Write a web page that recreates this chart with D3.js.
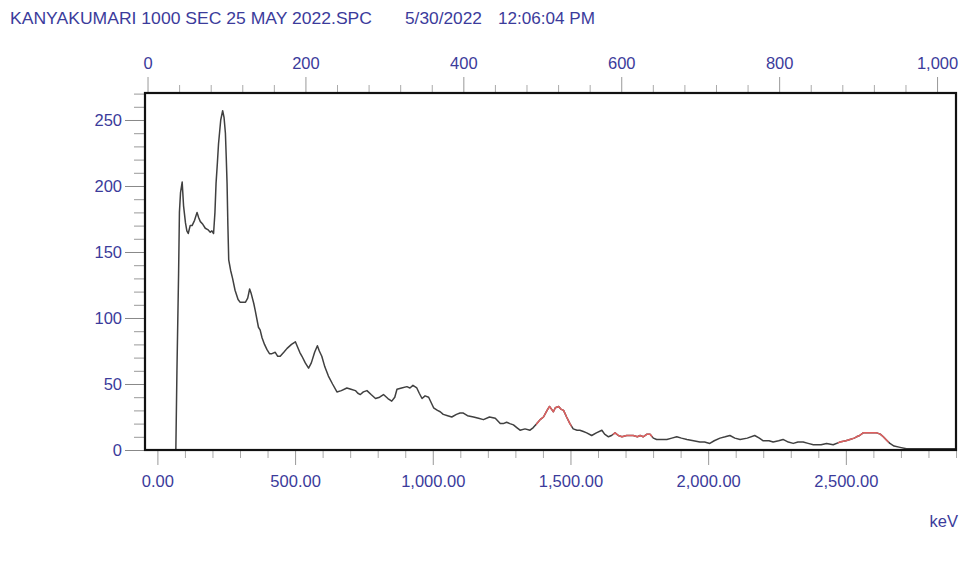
<!DOCTYPE html>
<html>
<head>
<meta charset="utf-8">
<script src="https://cdn.jsdelivr.net/npm/d3@7"></script>
<style>
  html, body { margin: 0; padding: 0; background: #ffffff; }
  svg { display: block; }
  text { font-family: "Liberation Sans", Arial, sans-serif; fill: #3b3b9b; }
</style>
</head>
<body>
<svg id="chart" width="963" height="561"></svg>
<script>
// ---- data ----
const titleFile = "KANYAKUMARI 1000 SEC 25 MAY 2022.SPC";
const titleDate = "5/30/2022";
const titleTime = "12:06:04 PM";
const unitLabel = "keV";

// energy (keV) of each sampled point
const energy = [67,71,77,80,84,90,95,102,107,112,119,126,135,144,150,156,165,174,183,192,198,204,209,213,218,222,230,237,242,247,250,253,256,259,266,273,282,293,300,310,320,328,335,340,350,355,367,373,380,389,398,407,416,428,437,446,459,471,487,501,509,517,525,537,549,559,571,581,588,597,608,621,636,652,668,688,703,719,728,737,748,761,776,792,807,821,837,851,862,870,887,906,917,928,942,951,961,972,985,994,1003,1017,1027,1038,1054,1069,1086,1099,1111,1126,1148,1166,1184,1206,1227,1245,1256,1268,1280,1293,1305,1317,1335,1353,1365,1378,1390,1402,1415,1424,1431,1438,1445,1457,1465,1475,1486,1498,1510,1524,1534,1547,1559,1577,1594,1614,1624,1638,1649,1662,1674,1687,1704,1715,1728,1743,1753,1764,1778,1789,1801,1813,1833,1850,1868,1886,1903,1923,1947,1970,1987,2006,2022,2043,2062,2079,2097,2116,2142,2169,2186,2200,2221,2236,2256,2272,2291,2309,2326,2345,2363,2382,2410,2430,2454,2478,2500,2515,2530,2539,2550,2563,2585,2600,2612,2625,2636,2650,2660,2675,2697,2720,2758,2790,2818,2850,2897];
// counts at each point
const counts = [0,60,134,180,195,203,185,172,166,164,170,170,174,180,176,173,171,168,167,165,166,164,180,202,218,232,250,257,252,240,222,202,170,144,136,130,121,114,112,112,112,115,122,119,111,106,93,91,85,80,76,73,73,74,71,71,74,77,80,82,78,74,71,66,62,66,74,79,75,71,63,56,50,44,45,47,46,45,43,42,44,45,42,39,40,42,39,37,40,46,47,48,47,49,47,43,39,41,40,36,32,30,29,27,26,25,27,28,28,26,25,24,23,25,24,20,20,21,20,19,17,15,16,15,17,20,23,25,30,33,31,29,32,33,31,30,25,20,16,15,15,14,13,11,13,15,12,10,11,13,11,10,11,11,11,10,11,10,12,12,9,8,8,8,9,10,9,8,7,6,6,5,7,9,10,11,9,8,9,11,9,7,7,6,7,8,6,5,6,6,5,4,4,5,4,6,7,8,9,10,11,13,13,13,13,12,10,7,5,3,2,1,1,1,1,1,1];
// regions of interest drawn in red (keV)
const roiStart = [1375, 1654, 2471];
const roiEnd   = [1504, 1797, 2656];

// axis tick values
const energyTicks = [0, 500, 1000, 1500, 2000, 2500];
const channelTicks = [0, 200, 400, 600, 800, 1000];
const countTicks = [0, 50, 100, 150, 200, 250];

// ---- drawing ----
const svg = d3.select("#chart");
const L = 145, R = 956, T = 93, B = 450;
const FS = 16.5;

const x = d3.scaleLinear().domain([-45, 2900]).range([L, R]);
const xc = d3.scaleLinear().domain([-3.2, 1024]).range([L, R]);
const y = d3.scaleLinear().domain([0, 270.45]).range([B, T]);

// title
const title = svg.append("text").attr("y", 24).attr("font-size", 17);
title.append("tspan").attr("x", 10).attr("textLength", 362).attr("lengthAdjust", "spacingAndGlyphs").text(titleFile);
title.append("tspan").attr("x", 405).attr("textLength", 77).attr("lengthAdjust", "spacingAndGlyphs").text(titleDate);
title.append("tspan").attr("x", 498).attr("textLength", 97).attr("lengthAdjust", "spacingAndGlyphs").text(titleTime);

function styleText(g) {
  g.selectAll("text").attr("font-size", FS).attr("fill", "#3b3b9b")
    .attr("font-family", "Liberation Sans, Arial, sans-serif");
}

// left axis: minor every 10, major every 50
const yMinor = d3.range(0, 271, 10).filter(v => v % 50 !== 0);
svg.append("g").attr("transform", `translate(${L},0)`)
  .call(d3.axisLeft(y).tickValues(yMinor).tickSize(11).tickFormat(""))
  .call(g => g.select(".domain").remove())
  .call(g => g.selectAll("line").attr("stroke", "#999").attr("stroke-width", 1));
svg.append("g").attr("transform", `translate(${L},0)`)
  .call(d3.axisLeft(y).tickValues(countTicks).tickSize(20).tickPadding(3).tickFormat(d3.format("d")))
  .call(g => g.select(".domain").remove())
  .call(g => g.selectAll("line").attr("stroke", "#888").attr("stroke-width", 1))
  .call(styleText);

// bottom axis: minor every 100, major every 500
const xMinor = d3.range(0, 2901, 100).filter(v => v % 500 !== 0);
svg.append("g").attr("transform", `translate(0,${B})`)
  .call(d3.axisBottom(x).tickValues(xMinor).tickSize(8).tickFormat(""))
  .call(g => g.select(".domain").remove())
  .call(g => g.selectAll("line").attr("stroke", "#aaa").attr("stroke-width", 1));
svg.append("g").attr("transform", `translate(0,${B})`)
  .call(d3.axisBottom(x).tickValues(energyTicks).tickSize(15).tickPadding(10).tickFormat(d3.format(",.2f")))
  .call(g => g.select(".domain").remove())
  .call(g => g.selectAll("line").attr("stroke", "#999").attr("stroke-width", 1))
  .call(styleText);

// top axis: channels, minor every 40, major every 200
const cMinor = d3.range(40, 1024, 40).filter(v => v % 200 !== 0);
svg.append("g").attr("transform", `translate(0,${T})`)
  .call(d3.axisTop(xc).tickValues(cMinor).tickSize(8).tickFormat(""))
  .call(g => g.select(".domain").remove())
  .call(g => g.selectAll("line").attr("stroke", "#aaa").attr("stroke-width", 1));
svg.append("g").attr("transform", `translate(0,${T})`)
  .call(d3.axisTop(xc).tickValues(channelTicks).tickSize(16).tickPadding(8).tickFormat(d3.format(",d")))
  .call(g => g.select(".domain").remove())
  .call(g => g.selectAll("line").attr("stroke", "#999").attr("stroke-width", 1))
  .call(styleText);

// unit label
svg.append("text").attr("x", 958).attr("y", 527).attr("text-anchor", "end")
  .attr("font-size", FS).text(unitLabel);

// spectrum
const pts = energy.map((e, i) => [e, counts[i]]);
const line = d3.line().x(d => x(d[0])).y(d => y(d[1]));

const defs = svg.append("defs");
defs.append("clipPath").attr("id", "plotclip").append("rect")
  .attr("x", L).attr("y", T).attr("width", R - L).attr("height", B - T);

const plot = svg.append("g").attr("clip-path", "url(#plotclip)");
plot.append("path").datum(pts).attr("d", line)
  .attr("fill", "none").attr("stroke", "#404040").attr("stroke-width", 1.5)
  .attr("stroke-linejoin", "round");

roiStart.forEach((s, i) => {
  const id = "roi" + i;
  defs.append("clipPath").attr("id", id).append("rect")
    .attr("x", x(s)).attr("y", T).attr("width", x(roiEnd[i]) - x(s)).attr("height", B - T);
  plot.append("path").datum(pts).attr("d", line).attr("clip-path", `url(#${id})`)
    .attr("fill", "none").attr("stroke", "#e06060").attr("stroke-width", 1.5)
    .attr("stroke-linejoin", "round");
});

// frame
svg.append("rect").attr("x", L).attr("y", T).attr("width", R - L).attr("height", B - T)
  .attr("fill", "none").attr("stroke", "#111").attr("stroke-width", 2.2);
</script>
</body>
</html>
